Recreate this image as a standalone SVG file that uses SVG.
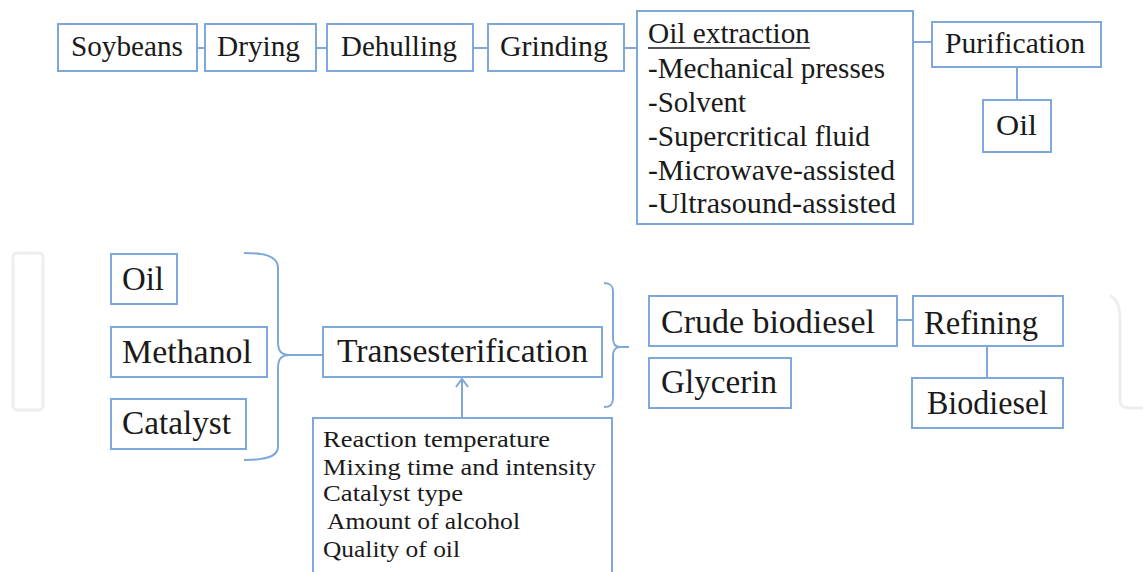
<svg xmlns="http://www.w3.org/2000/svg" width="1143" height="572" viewBox="0 0 1143 572" font-family="Liberation Serif">
<style>
  .box { fill: #ffffff; stroke: #7ea8da; stroke-width: 2; }
  .con { fill: none; stroke: #7ea8da; stroke-width: 2; }
  .wm { fill: none; stroke: #eeeeee; stroke-width: 3; }
  .t1 { font-size: 29px; fill: #1a1a1a; }
  .t2 { font-size: 33px; fill: #1a1a1a; }
  .t3 { font-size: 23px; fill: #1a1a1a; }
</style>
<rect width="1143" height="572" fill="#ffffff"/>
<rect class="wm" x="13" y="253" width="30" height="157" rx="4"/>
<path class="wm" d="M1110,296 C1116,298 1120,306 1120,320 L1120,400 C1120,406 1123,408 1130,408 L1143,408"/>

<g id="connectors">
  <line class="con" x1="197" y1="48" x2="205" y2="48"/>
  <line class="con" x1="316" y1="48" x2="327" y2="48"/>
  <line class="con" x1="473" y1="48" x2="488" y2="48"/>
  <line class="con" x1="624" y1="48" x2="636" y2="48"/>
  <line class="con" x1="913" y1="42" x2="932" y2="42"/>
  <line class="con" x1="1017" y1="67" x2="1017" y2="100"/>
  <path class="con" d="M244,253 C262,253 278,255 278,268 L278,342 C278,352 282,355 290,355 L323,355 M290,355 C282,355 278,358 278,368 L278,447 C278,458 262,460 244,460"/>
  <path class="con" d="M604,283 C610,283 613,285 613,292 L613,338 C613,345 616,347 620,347 L629,347 M620,347 C616,347 613,350 613,356 L613,398 C613,405 610,407 604,407"/>
  <line class="con" x1="462" y1="418" x2="462" y2="379"/>
  <path class="con" d="M456,387 L462,379 L468,387"/>
  <line class="con" x1="897" y1="320" x2="913" y2="320"/>
  <line class="con" x1="987" y1="346" x2="987" y2="378"/>
</g>

<g id="soybeans"><rect class="box" x="58" y="24" width="139" height="47"/><text class="t1" x="71" y="56" textLength="112" lengthAdjust="spacingAndGlyphs">Soybeans</text></g>
<g id="drying"><rect class="box" x="205" y="24" width="111" height="47"/><text class="t1" x="217" y="56" textLength="83" lengthAdjust="spacingAndGlyphs">Drying</text></g>
<g id="dehulling"><rect class="box" x="327" y="24" width="146" height="47"/><text class="t1" x="341" y="56" textLength="116" lengthAdjust="spacingAndGlyphs">Dehulling</text></g>
<g id="grinding"><rect class="box" x="488" y="24" width="136" height="47"/><text class="t1" x="500" y="56" textLength="108" lengthAdjust="spacingAndGlyphs">Grinding</text></g>
<g id="oil-extraction">
  <rect class="box" x="637" y="11" width="276" height="213"/>
  <text class="t1" x="648" y="43" textLength="162" lengthAdjust="spacingAndGlyphs">Oil extraction</text>
  <line x1="648" y1="48" x2="810" y2="48" stroke="#1a1a1a" stroke-width="1.5"/>
  <text class="t1" x="648" y="78" textLength="237" lengthAdjust="spacingAndGlyphs">-Mechanical presses</text>
  <text class="t1" x="648" y="112" textLength="98" lengthAdjust="spacingAndGlyphs">-Solvent</text>
  <text class="t1" x="648" y="146" textLength="222" lengthAdjust="spacingAndGlyphs">-Supercritical fluid</text>
  <text class="t1" x="648" y="180" textLength="247" lengthAdjust="spacingAndGlyphs">-Microwave-assisted</text>
  <text class="t1" x="648" y="213" textLength="248" lengthAdjust="spacingAndGlyphs">-Ultrasound-assisted</text>
</g>
<g id="purification"><rect class="box" x="932" y="22" width="169" height="45"/><text class="t1" x="945" y="53" textLength="140" lengthAdjust="spacingAndGlyphs">Purification</text></g>
<g id="oil-top"><rect class="box" x="983" y="100" width="68" height="52"/><text class="t1" x="996" y="135" textLength="41" lengthAdjust="spacingAndGlyphs">Oil</text></g>

<g id="oil"><rect class="box" x="111" y="254" width="66" height="50"/><text class="t2" x="122" y="290" textLength="42" lengthAdjust="spacingAndGlyphs">Oil</text></g>
<g id="methanol"><rect class="box" x="111" y="327" width="156" height="50"/><text class="t2" x="122" y="363" textLength="130" lengthAdjust="spacingAndGlyphs">Methanol</text></g>
<g id="catalyst"><rect class="box" x="111" y="399" width="135" height="50"/><text class="t2" x="122" y="434" textLength="109" lengthAdjust="spacingAndGlyphs">Catalyst</text></g>
<g id="transesterification"><rect class="box" x="323" y="327" width="279" height="50"/><text class="t2" x="337" y="362" textLength="251" lengthAdjust="spacingAndGlyphs">Transesterification</text></g>
<g id="parameters">
  <rect class="box" x="313" y="418" width="299" height="170"/>
  <text class="t3" x="323" y="447" textLength="227" lengthAdjust="spacingAndGlyphs">Reaction temperature</text>
  <text class="t3" x="323" y="475" textLength="273" lengthAdjust="spacingAndGlyphs">Mixing time and intensity</text>
  <text class="t3" x="323" y="501" textLength="140" lengthAdjust="spacingAndGlyphs">Catalyst type</text>
  <text class="t3" x="327" y="529" textLength="193" lengthAdjust="spacingAndGlyphs">Amount of alcohol</text>
  <text class="t3" x="323" y="557" textLength="137" lengthAdjust="spacingAndGlyphs">Quality of oil</text>
</g>
<g id="crude-biodiesel"><rect class="box" x="649" y="296" width="248" height="50"/><text class="t2" x="661" y="333" textLength="214" lengthAdjust="spacingAndGlyphs">Crude biodiesel</text></g>
<g id="glycerin"><rect class="box" x="649" y="358" width="142" height="50"/><text class="t2" x="661" y="393" textLength="116" lengthAdjust="spacingAndGlyphs">Glycerin</text></g>
<g id="refining"><rect class="box" x="913" y="296" width="150" height="50"/><text class="t2" x="924" y="334" textLength="114" lengthAdjust="spacingAndGlyphs">Refining</text></g>
<g id="biodiesel"><rect class="box" x="912" y="378" width="151" height="50"/><text class="t2" x="927" y="414" textLength="121" lengthAdjust="spacingAndGlyphs">Biodiesel</text></g>
</svg>
